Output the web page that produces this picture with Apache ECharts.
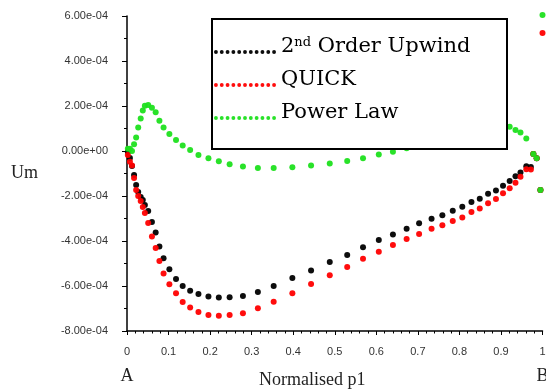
<!DOCTYPE html>
<html>
<head>
<meta charset="utf-8">
<script src="https://cdn.jsdelivr.net/npm/echarts@6/dist/echarts.min.js"></script>
<style>
html,body{margin:0;padding:0;background:#fff;}
#chart{width:546px;height:392px;}
</style>
</head>
<body>
<div id="chart"></div>
<script>
// Normalised p1 positions shared by all three schemes
const xValues = [0.002,0.007,0.012,0.017,0.022,0.027,0.033,0.038,0.043,0.051,
  0.060,0.069,0.078,0.088,0.102,0.118,0.134,0.152,0.172,0.196,
  0.221,0.247,0.279,0.315,0.353,0.398,0.443,0.488,0.530,0.568,
  0.606,0.640,0.673,0.703,0.733,0.759,0.784,0.807,0.829,0.849,
  0.869,0.888,0.905,0.921,0.935,0.947,0.961,0.972,0.978,0.986,0.995];

const upwind2nd = [-0.04e-4,-0.31e-4,-0.67e-4,-1.07e-4,-1.51e-4,-1.82e-4,-2.04e-4,-2.18e-4,-2.40e-4,-2.67e-4,
  -3.16e-4,-3.62e-4,-4.24e-4,-4.77e-4,-5.26e-4,-5.69e-4,-6.00e-4,-6.21e-4,-6.36e-4,-6.47e-4,
  -6.51e-4,-6.50e-4,-6.44e-4,-6.27e-4,-6.00e-4,-5.64e-4,-5.31e-4,-4.93e-4,-4.62e-4,-4.28e-4,
  -3.96e-4,-3.71e-4,-3.45e-4,-3.21e-4,-3.01e-4,-2.85e-4,-2.65e-4,-2.48e-4,-2.27e-4,-2.12e-4,
  -1.90e-4,-1.75e-4,-1.54e-4,-1.33e-4,-1.12e-4,-0.95e-4,-0.68e-4,-0.71e-4,-0.13e-4,-0.32e-4,-1.73e-4];

const quick = [-0.18e-4,-0.48e-4,-0.64e-4,-1.20e-4,-1.73e-4,-2.00e-4,-2.22e-4,-2.49e-4,-2.76e-4,-3.20e-4,
  -3.80e-4,-4.31e-4,-4.89e-4,-5.44e-4,-5.92e-4,-6.32e-4,-6.71e-4,-6.96e-4,-7.16e-4,-7.29e-4,
  -7.32e-4,-7.29e-4,-7.21e-4,-6.99e-4,-6.70e-4,-6.32e-4,-5.91e-4,-5.52e-4,-5.16e-4,-4.79e-4,
  -4.48e-4,-4.18e-4,-3.91e-4,-3.69e-4,-3.45e-4,-3.30e-4,-3.11e-4,-2.95e-4,-2.71e-4,-2.55e-4,
  -2.32e-4,-2.13e-4,-1.88e-4,-1.66e-4,-1.41e-4,-1.14e-4,-0.81e-4,-0.82e-4,-0.13e-4,-0.32e-4,-1.73e-4];

const powerLaw = [0.10e-4,0.10e-4,0.00e-4,0.30e-4,0.60e-4,1.05e-4,1.45e-4,1.80e-4,2.01e-4,2.04e-4,
  1.92e-4,1.72e-4,1.35e-4,1.05e-4,0.76e-4,0.49e-4,0.24e-4,0.04e-4,-0.18e-4,-0.32e-4,
  -0.45e-4,-0.59e-4,-0.69e-4,-0.76e-4,-0.76e-4,-0.72e-4,-0.64e-4,-0.55e-4,-0.44e-4,-0.32e-4,
  -0.16e-4,-0.03e-4,0.12e-4,0.20e-4,0.30e-4,0.40e-4,0.50e-4,0.60e-4,0.70e-4,0.80e-4,
  0.90e-4,0.98e-4,1.05e-4,1.08e-4,0.93e-4,0.82e-4,0.56e-4,null,-0.13e-4,-0.32e-4,-1.73e-4];

// points at the right edge (x = 1)
const edgeX = [1.0];
const edgeQuick = [5.24e-4];
const edgePowerLaw = [6.04e-4];

const seriesNames = ['2nd Order Upwind', 'QUICK', 'Power Law'];
const xTicks = {min: 0, max: 1, interval: 0.1};
const yTicks = {min: -8e-4, max: 6e-4, interval: 2e-4};

function pairs(xs, ys) {
  const out = [];
  for (let i = 0; i < xs.length; i++) if (ys[i] !== null) out.push([xs[i], ys[i]]);
  return out;
}
function fmtY(v) {
  if (Math.abs(v) < 1e-12) return '0.00e+00';
  return v.toExponential(2).replace(/e([+-])(\d)$/, 'e$10$2');
}
let dotPath = '';
for (let i = 0; i < 11; i++) {
  const cx = 2 + i * 6;
  dotPath += 'M' + (cx - 2) + ',2a2,2 0 1,0 4,0a2,2 0 1,0 -4,0Z';
}

const chart = echarts.init(document.getElementById('chart'), null, {renderer: 'canvas'});
chart.setOption({
  animation: false,
  backgroundColor: '#fff',
  grid: {left: 127, top: 16, width: 415.5, height: 315, containLabel: false, outerBoundsMode: 'none'},
  legend: {
    data: seriesNames,
    orient: 'vertical',
    left: 212, top: 19,
    icon: 'path://' + dotPath,
    itemWidth: 62, itemHeight: 4, itemGap: 1,
    padding: [17, 6, 15, 2],
    borderColor: '#000', borderWidth: 2, backgroundColor: '#fff',
    selectedMode: false,
    formatter: function (n) { return n === '2nd Order Upwind' ? '2{sup|nd} Order Upwind' : n; },
    textStyle: {
      fontFamily: 'DejaVu Serif', fontSize: 21, color: '#000',
      width: 220, lineHeight: 22, padding: [0, 0, 10, 0],
      rich: {sup: {fontFamily: 'DejaVu Serif', fontSize: 13, color: '#000', lineHeight: 10, verticalAlign: 'top'}}
    }
  },
  xAxis: {
    type: 'value', min: xTicks.min, max: xTicks.max, interval: xTicks.interval,
    name: 'Normalised p1', nameLocation: 'middle', nameGap: 40, nameMoveOverlap: false,
    nameTextStyle: {fontFamily: 'Liberation Serif', fontSize: 18, color: '#222', padding: [0, 45, 0, 0]},
    axisLine: {show: true, onZero: false, lineStyle: {color: '#000', width: 1.5}},
    axisTick: {show: true, length: 4, lineStyle: {color: '#000'}},
    minorTick: {show: true, splitNumber: 5, length: 2.5, lineStyle: {color: '#000'}},
    splitLine: {show: false},
    axisLabel: {
      margin: 14, fontFamily: 'Liberation Sans', fontSize: 11, color: '#333', lineHeight: 14,
      showMinLabel: true, showMaxLabel: true,
      formatter: function (v) {
        if (v === 0) return '0\n{ab|A}';
        if (Math.abs(v - 1) < 1e-9) return '1\n{ab|B}';
        return String(+v.toFixed(1));
      },
      rich: {ab: {fontFamily: 'Liberation Serif', fontSize: 18, color: '#222', lineHeight: 34}}
    }
  },
  yAxis: {
    type: 'value', min: yTicks.min, max: yTicks.max, interval: yTicks.interval,
    name: 'Um', nameLocation: 'middle', nameRotate: 0, nameGap: 89,
    nameTextStyle: {fontFamily: 'Liberation Serif', fontSize: 18, color: '#222', verticalAlign: 'middle', align: 'right'},
    axisLine: {show: true, onZero: false, lineStyle: {color: '#000', width: 1.5}},
    axisTick: {show: true, length: 5, lineStyle: {color: '#000'}},
    minorTick: {show: true, splitNumber: 2, length: 3, lineStyle: {color: '#000'}},
    splitLine: {show: false},
    axisLabel: {margin: 19, fontFamily: 'Liberation Sans', fontSize: 11, color: '#333', formatter: fmtY}
  },
  series: [
    {name: seriesNames[0], type: 'scatter', symbolSize: 6, clip: false,
     itemStyle: {color: '#000', opacity: 0.95}, data: pairs(xValues, upwind2nd)},
    {name: seriesNames[1], type: 'scatter', symbolSize: 6, clip: false,
     itemStyle: {color: '#f00', opacity: 0.95}, data: pairs(xValues, quick).concat(pairs(edgeX, edgeQuick))},
    {name: seriesNames[2], type: 'scatter', symbolSize: 6, clip: false,
     itemStyle: {color: '#1ee01e', opacity: 0.95}, data: pairs(xValues, powerLaw).concat(pairs(edgeX, edgePowerLaw))}
  ]
});
</script>
</body>
</html>
